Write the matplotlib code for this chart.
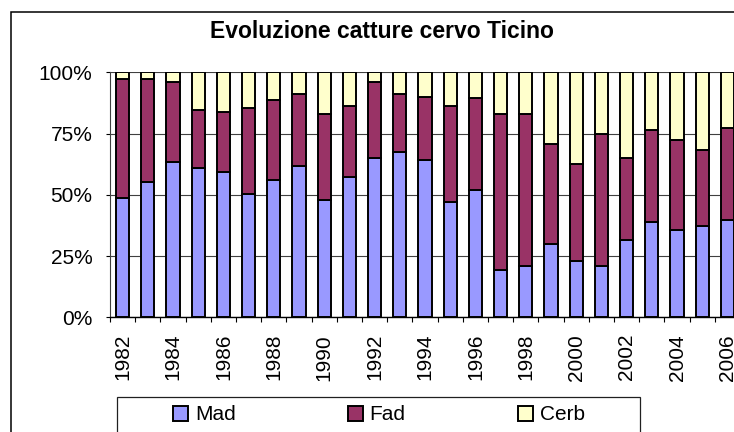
import matplotlib
matplotlib.use('Agg')
import matplotlib.pyplot as plt
from matplotlib.patches import Rectangle
from matplotlib.ticker import FixedLocator, PercentFormatter

# shares per year, in percent
years = list(range(1982, 2007))
mad = [48.8, 55.1, 63.3, 61.1, 59.2, 50.3, 56.1, 61.8, 47.8, 57.1, 65.0, 67.3, 64.2,
       46.9, 52.0, 19.5, 21.1, 30.1, 22.9, 21.1, 31.7, 38.9, 35.8, 37.3, 39.9]
fad = [48.6, 42.3, 32.6, 23.5, 24.6, 35.0, 32.5, 29.4, 35.1, 29.2, 30.9, 23.7, 25.9,
       39.4, 37.4, 63.5, 61.9, 40.6, 39.8, 53.6, 33.3, 37.7, 36.6, 31.0, 37.2]
cerb = [2.6, 2.6, 4.1, 15.4, 16.2, 14.7, 11.4, 8.8, 17.1, 13.7, 4.1, 9.0, 9.9,
        13.7, 10.6, 17.0, 17.0, 29.3, 37.3, 25.3, 35.0, 23.4, 27.6, 31.7, 22.9]
series_names = ['Mad', 'Fad', 'Cerb']
colors = ['#9999FF', '#993366', '#FFFFCC']

plt.rcParams['font.family'] = ['Liberation Sans', 'DejaVu Sans']

W, H = 734, 432
fig = plt.figure(figsize=(W / 100, H / 100), dpi=100)

# outer chart frame (right and bottom run off the picture)
fig.add_artist(Rectangle((10.5 / W, -0.1), 1.2, 1.1 - 12 / H, transform=fig.transFigure,
                         fill=False, edgecolor='black', linewidth=1.1, zorder=0))

ax = fig.add_axes([110 / W, 1 - 317.3 / H, 25 * 25.2 / W, 245 / H])

x = list(range(len(years)))
bottom2 = [a + b for a, b in zip(mad, fad)]
handles = []
for vals, base, name, col in [(mad, None, series_names[0], colors[0]),
                              (fad, mad, series_names[1], colors[1]),
                              (cerb, bottom2, series_names[2], colors[2])]:
    h = ax.bar(x, vals, width=0.52, bottom=base, color=col, edgecolor='black',
               linewidth=1.4, label=name, zorder=3)
    handles.append(h)

ax.set_xlim(-0.5, len(years) - 0.5)
ax.set_ylim(0, 100)
ax.yaxis.set_major_locator(FixedLocator([0, 25, 50, 75, 100]))
ax.yaxis.set_major_formatter(PercentFormatter(decimals=0))
ax.grid(axis='y', color='#404040', linewidth=0.8)
ax.set_axisbelow(True)

ax.set_xticks(x[::2])
ax.set_xticklabels([str(y) for y in years[::2]], rotation=90)
ax.set_xticks([i - 0.5 for i in range(len(years) + 1)], minor=True)
ax.tick_params(axis='x', which='major', length=0, pad=12, labelsize=15)
ax.tick_params(axis='x', which='minor', length=3.6, width=0.8, direction='out')
ax.tick_params(axis='y', length=3.2, width=0.8, pad=9.5, labelsize=15)

for side in ['top', 'right']:
    ax.spines[side].set_visible(False)
ax.spines['left'].set_color('#404040')
ax.spines['bottom'].set_linewidth(1.0)

fig.text(382 / W, 1 - 38.5 / H, 'Evoluzione catture cervo Ticino', ha='center',
         va='baseline', fontsize=16.5, fontweight='bold')

# legend box, runs off the bottom edge
fig.add_artist(Rectangle((116.7 / W, -0.1), (640 - 116.7) / W, 0.1 + 1 - 397 / H,
                         transform=fig.transFigure, fill=False, edgecolor='#202020',
                         linewidth=0.9, zorder=1))
fig.legend(handles=handles, loc='center', bbox_to_anchor=(379 / W, 1 - 415 / H),
           ncol=3, frameon=False, fontsize=15, handlelength=0.7, handleheight=0.7,
           handletextpad=0.33, columnspacing=5.4, borderpad=0)

fig.savefig('out.png', dpi=100)
